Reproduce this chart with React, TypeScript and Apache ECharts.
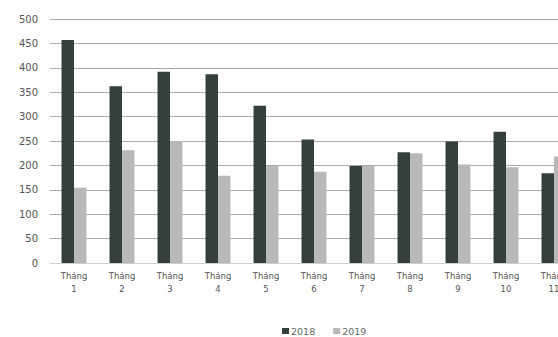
import React, { useEffect, useRef } from "react";
import * as echarts from "echarts";

const categories = [
  "Tháng\n1", "Tháng\n2", "Tháng\n3", "Tháng\n4", "Tháng\n5", "Tháng\n6",
  "Tháng\n7", "Tháng\n8", "Tháng\n9", "Tháng\n10", "Tháng\n11",
];
const values2018 = [457, 362, 392, 387, 322, 253, 199, 227, 249, 269, 184];
const values2019 = [154, 231, 250, 179, 199, 187, 199, 225, 202, 196, 218];
const seriesNames = ["2018", "2019"];

export default function App() {
  const ref = useRef<HTMLDivElement>(null);
  useEffect(() => {
    if (!ref.current) return;
    const chart = echarts.init(ref.current, null, { renderer: "svg" });
    chart.setOption({
      animation: false,
      backgroundColor: "#ffffff",
      textStyle: { fontFamily: "DejaVu Sans" },
      legend: {
        left: 282,
        top: 326,
        padding: 0,
        itemWidth: 7,
        itemHeight: 6,
        itemGap: 18,
        icon: "rect",
        textStyle: { fontSize: 9.5, color: "#666", fontFamily: "DejaVu Sans", padding: [0, 0, 0, -3] },
        data: seriesNames,
      },
      grid: { left: 50, top: 19, width: 528, height: 244, containLabel: false },
      xAxis: {
        type: "category",
        data: categories,
        axisLine: { show: true, lineStyle: { color: "#d0d0d0" } },
        axisTick: { show: false },
        axisLabel: {
          color: "#555",
          fontSize: 8.5,
          fontFamily: "DejaVu Sans",
          lineHeight: 13,
          margin: 6,
          interval: 0,
        },
      },
      yAxis: {
        type: "value",
        min: 0,
        max: 500,
        interval: 50,
        axisLine: { show: false },
        axisTick: { show: false },
        axisLabel: { color: "#555", fontSize: 10, fontFamily: "DejaVu Sans", margin: 12 },
        splitLine: { lineStyle: { color: "#ababab", width: 1 } },
      },
      series: [
        {
          name: seriesNames[0],
          type: "bar",
          data: values2018,
          itemStyle: { color: "#34403e" },
          barGap: "0%",
          barCategoryGap: "48%",
        },
        {
          name: seriesNames[1],
          type: "bar",
          data: values2019,
          itemStyle: { color: "#b8b8b8" },
          barGap: "0%",
          barCategoryGap: "48%",
        },
      ],
    });
    return () => chart.dispose();
  }, []);
  return (
    <div style={{ position: "absolute", left: 0, top: 0, width: 558, height: 337, overflow: "hidden", background: "#fff" }}>
      <div ref={ref} style={{ width: 620, height: 337 }} />
    </div>
  );
}
